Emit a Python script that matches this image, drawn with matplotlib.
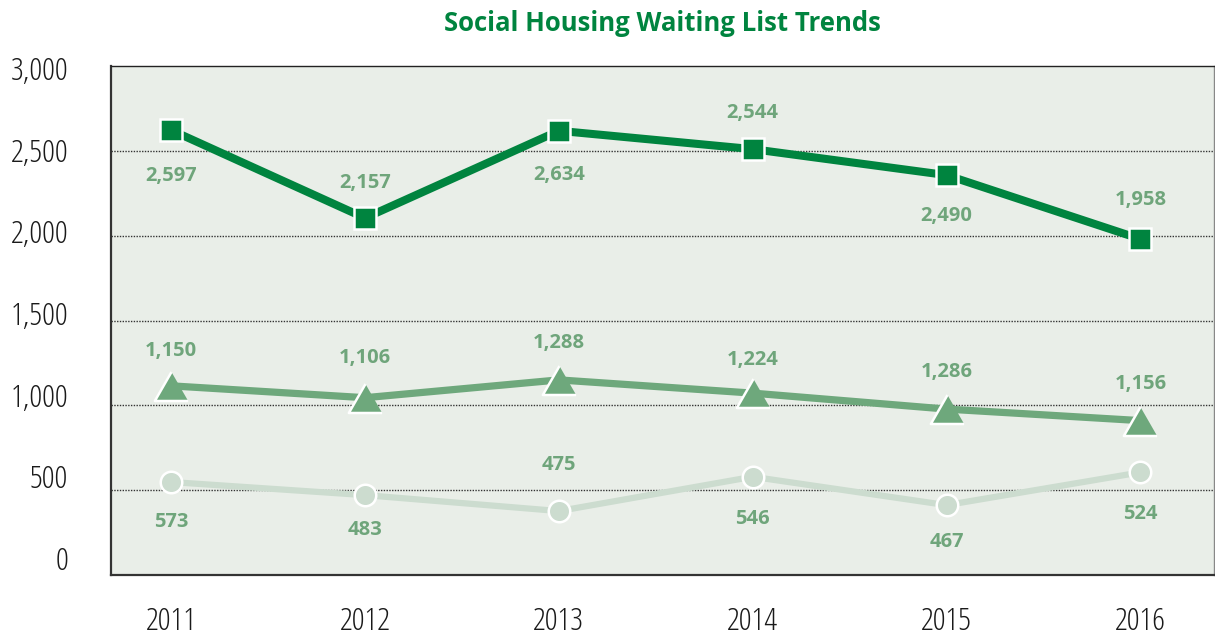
import matplotlib.pyplot as plt
from matplotlib import font_manager

years = [2011, 2012, 2013, 2014, 2015, 2016]

# plotted positions of the three series (as drawn)
top_values = [2622, 2104, 2618, 2510, 2357, 1980]
mid_values = [1115, 1045, 1150, 1072, 978, 910]
low_values = [548, 471, 377, 579, 412, 605]

# value labels as printed on the chart
top_labels = ["2,597", "2,157", "2,634", "2,544", "2,490", "1,958"]
mid_labels = ["1,150", "1,106", "1,288", "1,224", "1,286", "1,156"]
low_labels = ["573", "483", "475", "546", "467", "524"]

y_ticks = [0, 500, 1000, 1500, 2000, 2500, 3000]
y_tick_labels = ["0", "500", "1,000", "1,500", "2,000", "2,500", "3,000"]

DARK = "#00843f"
MID = "#6ea87c"
LIGHT = "#ccdccf"
LABEL = "#6fa57b"
BG = "#e9eee8"

# look for a condensed face, the original uses a narrow grotesque
fonts = font_manager.fontManager.ttflist
cond = [f for f in fonts if "Condensed" in f.fname or "Narrow" in f.fname
        or f.stretch in ("condensed", "semi-condensed")]
FAMILY = "DejaVu Sans"
STRETCH = "normal"
for pref in ["Roboto", "Liberation Sans Narrow", "Open Sans", "Noto Sans", "DejaVu Sans"]:
    hit = [f for f in cond if f.name == pref]
    if hit:
        FAMILY = pref
        STRETCH = "condensed"
        break
plt.rcParams["font.family"] = [FAMILY, "DejaVu Sans"]
plt.rcParams["font.stretch"] = STRETCH
scale = 1.0 if STRETCH == "condensed" else 0.8

fig = plt.figure(figsize=(12.15, 6.37), dpi=100)
ax = fig.add_axes([0.0914, 0.0973, 0.9078, 0.7991])
ax.set_facecolor(BG)

tri = [(0, 1), (-1.15, -1), (1.15, -1)]
ax.plot(years, low_values, color=LIGHT, lw=4.5, marker="o", ms=15.5,
        mfc=LIGHT, mec="white", mew=1.8, zorder=3)
ax.plot(years, mid_values, color=MID, lw=5.2, marker=tri, ms=24,
        mfc=MID, mec="white", mew=1.8, zorder=4)
ax.plot(years, top_values, color=DARK, lw=5.8, marker="s", ms=16,
        mfc=DARK, mec="white", mew=1.8, zorder=5)

# label offsets in pixels (positive = above the point)
top_off = [-46, 35, -44, 36, -41, 39]
mid_off = [35, 40, 37, 33, 37, 37]
low_off = [-40, -35, 46, -42, -37, -42]
for vals, labs, offs in [(top_values, top_labels, top_off),
                         (mid_values, mid_labels, mid_off),
                         (low_values, low_labels, low_off)]:
    for x, v, lab, off in zip(years, vals, labs, offs):
        ax.annotate(lab, (x, v), xytext=(0, off), textcoords="offset pixels",
                    ha="center", va="center", fontsize=14.5 * scale,
                    fontweight="bold", color=LABEL, zorder=6)

ax.set_xlim(2010.69, 2016.38)
ax.set_ylim(0, 3000)

for v in y_ticks[1:-1]:
    ax.axhline(v, color="#333333", lw=1.0, ls=(0, (1, 1)), zorder=1)

ax.set_yticks([])
for v, lab in zip(y_ticks, y_tick_labels):
    off = 13 - 19 * v / 3000
    ax.annotate(lab, (0, v), xycoords=("axes fraction", "data"),
                xytext=(-43, off), textcoords="offset pixels",
                ha="right", va="center", fontsize=23 * scale, color="#1a1a1a",
                annotation_clip=False)

ax.set_xticks(years)
ax.set_xticklabels([str(y) for y in years], fontsize=23 * scale, color="#1a1a1a")
ax.tick_params(axis="x", length=0, pad=22)

for side in ["left", "bottom"]:
    ax.spines[side].set_color("#333333")
    ax.spines[side].set_linewidth(1.6)
ax.spines["top"].set_color("#222222")
ax.spines["top"].set_linewidth(1.0)
ax.spines["right"].set_color("#888888")
ax.spines["right"].set_linewidth(1.0)

fig.text(0.545, 0.963, "Social Housing Waiting List Trends", ha="center",
         va="center", fontsize=18.5 * scale, fontweight="bold", color=DARK)

fig.savefig("out.png", dpi=100, facecolor="white")
